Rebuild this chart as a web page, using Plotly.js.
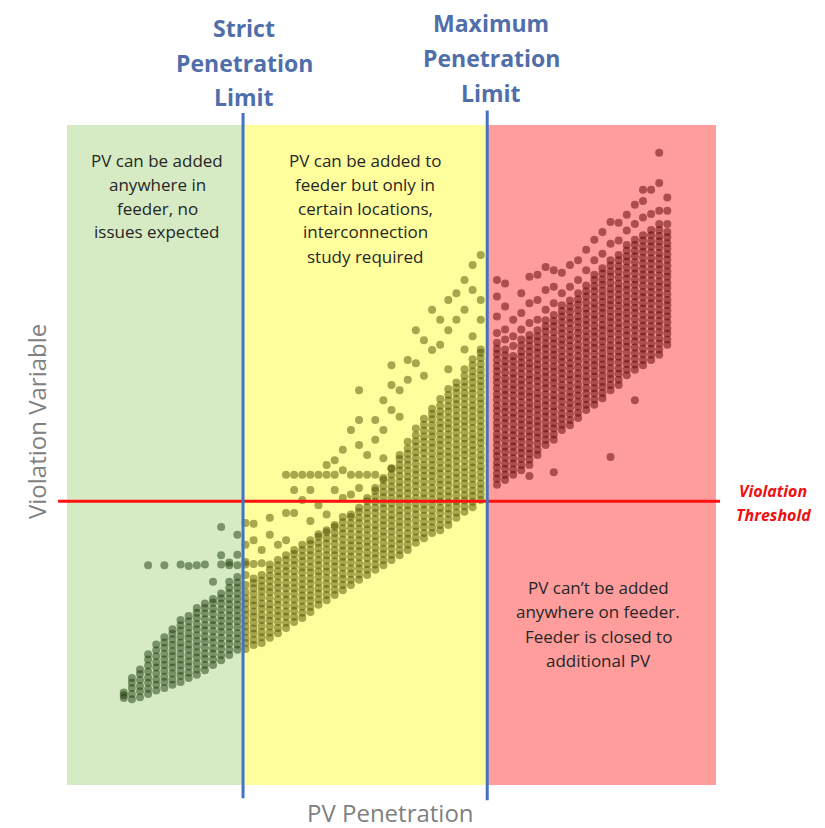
<!DOCTYPE html>
<html><head><meta charset="utf-8">
<script src="https://cdn.plot.ly/plotly-3.0.1.min.js"></script>
<style>html,body{margin:0;padding:0;background:#fff}</style>
</head><body><div id="chart" style="width:825px;height:828px"></div>
<script>
// ---- thresholds & extents (data units) ----
const strictLimit = 21.7;
const maxLimit = 51.8;
const violationThreshold = 43;
const penetrationExtent = [0, 80];
const violationExtent = [0, 100];

// ---- scatter data: columns of PV penetration with violation values ----
const strictZoneCols = [7,8,9,10,11,12,13,14,15,16,17,18,19,20,21];
const strictZoneVals = [
 [13.2,14.0,13.6],
 [13.0,13.8,14.7,15.5,16.2],
 [13.3,14.2,15.0,15.9,16.8,17.5],
 [13.8,14.6,15.5,16.3,17.2,18.1,19.0,19.8,33.3],
 [14.3,15.2,16.0,16.9,17.8,18.6,19.5,20.4,21.3],
 [14.7,15.6,16.4,17.3,18.2,19.0,19.9,20.8,21.6,22.4,33.3],
 [15.2,16.0,16.9,17.8,18.6,19.5,20.3,21.2,22.1,22.9,23.6],
 [15.6,16.5,17.3,18.2,19.0,19.9,20.8,21.6,22.5,23.4,24.2,25.0,33.4],
 [16.2,17.0,17.9,18.7,19.6,20.5,21.3,22.2,23.0,23.9,24.8,25.6,33.2],
 [16.7,17.5,18.4,19.3,20.1,21.0,21.8,22.7,23.6,24.4,25.3,26.1,26.8,33.3],
 [17.4,18.2,19.1,19.9,20.8,21.7,22.5,23.4,24.2,25.1,26.0,26.8,27.5,33.4],
 [18.2,19.0,19.9,20.7,21.6,22.4,23.3,24.2,25.0,25.9,26.7,27.6,28.2,30.8],
 [18.9,19.7,20.6,21.4,22.3,23.2,24.0,24.9,25.7,26.6,27.5,28.3,29.0,33.4,34.8,39.1],
 [19.7,20.5,21.4,22.2,23.1,24.0,24.8,25.7,26.5,27.4,28.2,29.1,29.9,30.8,33.3,33.7],
 [20.5,21.3,22.2,23.0,23.9,24.8,25.6,26.5,27.3,28.2,29.0,29.9,30.7,31.5,33.3,34.9,37.9]
];
const studyZoneCols = [22,23,24,25,26,27,28,29,30,31,32,33,34,35,36,37,38,39,40,41,42,43,44,45,46,47,48,49,50,51];
const studyZoneVals = [
 [20.6,21.5,22.3,23.2,24.0,24.9,25.8,26.6,27.5,28.3,29.2,30.3,31.8,33.4,33.8,36.4,39.7],
 [21.2,22.0,22.9,23.7,24.6,25.5,26.3,27.2,28.0,28.9,29.8,30.6,31.3,33.5,37.1,39.6],
 [21.5,22.4,23.2,24.1,25.0,25.8,26.7,27.5,28.4,29.3,30.1,31.0,31.8,33.6,35.6],
 [22.3,23.1,24.0,24.9,25.7,26.6,27.4,28.3,29.2,30.0,30.9,31.7,32.6,33.4,37.9,40.5],
 [23.0,23.8,24.7,25.6,26.4,27.3,28.1,29.0,29.9,30.7,31.6,32.4,33.3,34.1,36.4],
 [23.8,24.6,25.5,26.3,27.2,28.1,28.9,29.8,30.6,31.5,32.4,33.2,34.1,34.8,37.1,41.2,47.0],
 [24.7,25.5,26.4,27.2,28.1,29.0,29.8,30.7,31.5,32.4,33.3,34.1,35.0,35.6,41.2,44.7,47.0],
 [25.3,26.1,27.0,27.9,28.7,29.6,30.4,31.3,32.2,33.0,33.9,34.7,35.6,36.4,43.2,47.0],
 [26.2,27.0,27.9,28.7,29.6,30.5,31.3,32.2,33.0,33.9,34.8,35.6,36.5,37.1,40.0,44.7,47.0],
 [27.3,28.1,29.0,29.8,30.7,31.6,32.4,33.3,34.1,35.0,35.9,36.7,37.6,38.0,42.4,47.0],
 [28.0,28.8,29.7,30.5,31.4,32.3,33.1,34.0,34.8,35.7,36.6,37.4,38.3,38.6,41.0,47.0,48.5],
 [28.8,29.6,30.5,31.3,32.2,33.1,33.9,34.8,35.6,36.5,37.4,38.2,39.1,39.4,44.7,47.0,49.2],
 [29.5,30.3,31.2,32.0,32.9,33.8,34.6,35.5,36.3,37.2,38.1,38.9,39.8,40.6,43.5,47.7,50.8],
 [30.3,31.1,32.0,32.8,33.7,34.6,35.4,36.3,37.1,38.0,38.9,39.7,40.6,41.0,44.0,47.0,53.8],
 [31.1,31.9,32.8,33.6,34.5,35.4,36.2,37.1,37.9,38.8,39.7,40.5,41.4,42.0,45.0,47.0,51.5,55.3,59.8],
 [31.8,32.6,33.5,34.4,35.2,36.1,36.9,37.8,38.7,39.5,40.4,41.2,42.1,43.0,43.5,47.0,50.0],
 [32.6,33.4,34.3,35.1,36.0,36.9,37.7,38.6,39.4,40.3,41.2,42.0,42.9,43.7,44.6,45.0,47.0,52.3,55.3],
 [33.3,34.1,35.0,35.8,36.7,37.6,38.4,39.3,40.1,41.0,41.9,42.7,43.6,44.4,45.3,46.2,46.5,49.5,53.8,58.3],
 [34.1,34.9,35.8,36.6,37.5,38.4,39.2,40.1,40.9,41.8,42.7,43.5,44.4,45.2,46.1,47.0,47.9,48.0,56.8,60.6,63.6],
 [34.8,35.6,36.5,37.3,38.2,39.1,39.9,40.8,41.6,42.5,43.4,44.2,45.1,45.9,46.8,47.7,48.5,49.4,50.0,55.8,59.8],
 [35.6,36.4,37.3,38.1,39.0,39.9,40.7,41.6,42.4,43.3,44.2,45.0,45.9,46.7,47.6,48.5,49.3,50.2,51.0,52.0,61.4,64.4],
 [36.7,37.5,38.4,39.2,40.1,41.0,41.8,42.7,43.5,44.4,45.3,46.1,47.0,47.8,48.7,49.6,50.4,51.3,52.1,53.0,54.0,63.9,68.9],
 [37.4,38.2,39.1,39.9,40.8,41.7,42.5,43.4,44.2,45.1,46.0,46.8,47.7,48.5,49.4,50.3,51.1,52.0,52.8,53.7,54.6,55.5,62.0,67.4],
 [38.2,39.0,39.9,40.7,41.6,42.5,43.3,44.2,45.0,45.9,46.8,47.6,48.5,49.3,50.2,51.1,51.9,52.8,53.6,54.5,55.4,56.2,57.0,65.9,72.0],
 [38.6,39.4,40.3,41.2,42.0,42.9,43.7,44.6,45.5,46.3,47.2,48.0,48.9,49.8,50.6,51.5,52.3,53.2,54.1,54.9,55.8,56.6,57.5,58.5,66.7,70.5],
 [39.4,40.2,41.1,41.9,42.8,43.7,44.5,45.4,46.2,47.1,48.0,48.8,49.7,50.5,51.4,52.3,53.1,54.0,54.8,55.7,56.6,57.4,58.3,59.1,60.0,63.0,68.9,73.5],
 [40.5,41.3,42.2,43.0,43.9,44.8,45.6,46.5,47.3,48.2,49.1,49.9,50.8,51.6,52.5,53.4,54.2,55.1,55.9,56.8,57.7,58.5,59.4,60.2,61.0,70.5,74.5],
 [41.4,42.2,43.1,43.9,44.8,45.7,46.5,47.4,48.2,49.1,50.0,50.8,51.7,52.5,53.4,54.3,55.1,56.0,56.8,57.7,58.6,59.4,60.3,61.1,62.0,63.0,66.0,72.0,76.5],
 [42.1,42.9,43.8,44.6,45.5,46.4,47.2,48.1,48.9,49.8,50.7,51.5,52.4,53.2,54.1,55.0,55.8,56.7,57.5,58.4,59.3,60.1,61.0,61.8,62.7,63.6,64.5,68.0,75.0,78.8],
 [43.2,44.0,44.9,45.7,46.6,47.5,48.3,49.2,50.0,50.9,51.8,52.6,53.5,54.3,55.2,56.1,56.9,57.8,58.6,59.5,60.4,61.2,62.1,62.9,63.8,64.7,65.5,66.0,70.5,73.5,80.3]
];
const closedZoneCols = [53,54,55,56,57,58,59,60,61,62,63,64,65,66,67,68,69,70,71,72,73,74];
const closedZoneVals = [
 [45.5,46.4,47.2,48.1,48.9,49.8,50.6,51.5,52.4,53.2,54.1,54.9,55.8,56.7,57.5,58.4,59.2,60.1,61.0,61.8,62.7,63.5,64.4,65.3,66.1,67.0,68.5,71.0,74.0,76.5],
 [46.2,47.0,47.9,48.7,49.6,50.5,51.3,52.2,53.0,53.9,54.8,55.6,56.5,57.3,58.2,59.1,59.9,60.8,61.6,62.5,63.4,64.2,65.1,66.0,67.5,69.0,72.5,76.0],
 [47.0,47.8,48.7,49.5,50.4,51.3,52.1,53.0,53.8,54.7,55.6,56.4,57.3,58.1,59.0,59.9,60.7,61.6,62.4,63.3,64.2,65.0,66.5,68.0,70.5],
 [47.7,48.5,49.4,50.3,51.1,52.0,52.8,53.7,54.6,55.4,56.3,57.1,58.0,58.9,59.7,60.6,61.4,62.3,63.2,64.0,64.9,65.7,66.6,67.5,69.0,71.5,74.5],
 [46.8,48.5,49.3,50.2,51.0,51.9,52.8,53.6,54.5,55.3,56.2,57.1,57.9,58.8,59.6,60.5,61.4,62.2,63.1,63.9,64.8,65.7,66.5,67.4,68.2,70.0,73.0,77.0],
 [50.0,50.8,51.7,52.6,53.4,54.3,55.1,56.0,56.9,57.7,58.6,59.4,60.3,61.2,62.0,62.9,63.7,64.6,65.5,66.3,67.2,68.0,68.9,70.5,73.5,77.3],
 [51.5,52.3,53.2,54.0,54.9,55.8,56.6,57.5,58.3,59.2,60.1,60.9,61.8,62.6,63.5,64.4,65.2,66.1,66.9,67.8,68.7,69.5,70.4,72.0,75.0,78.5],
 [47.4,52.3,53.1,54.0,54.8,55.7,56.6,57.4,58.3,59.1,60.0,60.9,61.7,62.6,63.4,64.3,65.2,66.0,66.9,67.7,68.6,69.5,70.3,71.2,73.0,75.5,78.0],
 [53.8,54.6,55.5,56.3,57.2,58.1,58.9,59.8,60.6,61.5,62.4,63.2,64.1,64.9,65.8,66.7,67.5,68.4,69.2,70.1,71.0,71.8,72.7,74.5,77.6],
 [54.5,55.3,56.2,57.1,57.9,58.8,59.6,60.5,61.4,62.2,63.1,63.9,64.8,65.7,66.5,67.4,68.2,69.1,70.0,70.8,71.7,72.5,73.4,75.5,78.8],
 [55.6,56.4,57.3,58.1,59.0,59.9,60.7,61.6,62.4,63.3,64.2,65.0,65.9,66.7,67.6,68.5,69.3,70.2,71.0,71.9,72.8,73.6,74.5,76.5,79.5],
 [56.8,57.6,58.5,59.3,60.2,61.1,61.9,62.8,63.6,64.5,65.4,66.2,67.1,67.9,68.8,69.7,70.5,71.4,72.2,73.1,74.0,74.8,75.7,78.0,81.1],
 [57.6,58.4,59.3,60.1,61.0,61.9,62.7,63.6,64.4,65.3,66.2,67.0,67.9,68.7,69.6,70.5,71.3,72.2,73.0,73.9,74.8,75.6,76.5,77.3,79.5,82.6],
 [58.6,59.4,60.3,61.1,62.0,62.9,63.7,64.6,65.4,66.3,67.2,68.0,68.9,69.7,70.6,71.5,72.3,73.2,74.0,74.9,75.8,76.6,77.5,78.3,80.5,83.8],
 [49.7,59.8,60.6,61.5,62.3,63.2,64.1,64.9,65.8,66.6,67.5,68.4,69.2,70.1,70.9,71.8,72.7,73.5,74.4,75.2,76.1,77.0,77.8,78.7,79.5,82.0,85.3],
 [60.6,61.4,62.3,63.1,64.0,64.9,65.7,66.6,67.4,68.3,69.2,70.0,70.9,71.7,72.6,73.5,74.3,75.2,76.0,76.9,77.8,78.6,79.5,80.3,82.5,85.2],
 [62.1,62.9,63.8,64.6,65.5,66.4,67.2,68.1,68.9,69.8,70.7,71.5,72.4,73.2,74.1,75.0,75.8,76.7,77.5,78.4,79.3,80.1,81.0,81.8,84.0,86.4],
 [58.3,62.9,63.7,64.6,65.4,66.3,67.2,68.0,68.9,69.7,70.6,71.5,72.3,73.2,74.0,74.9,75.8,76.6,77.5,78.3,79.2,80.1,80.9,81.8,82.6,85.0,87.9],
 [63.6,64.4,65.3,66.1,67.0,67.9,68.7,69.6,70.4,71.3,72.2,73.0,73.9,74.7,75.6,76.5,77.3,78.2,79.0,79.9,80.8,81.6,82.5,83.3,86.0,88.5,90.2],
 [64.4,65.2,66.1,66.9,67.8,68.7,69.5,70.4,71.2,72.1,73.0,73.8,74.7,75.5,76.4,77.3,78.1,79.0,79.8,80.7,81.6,82.4,83.3,84.1,86.5,90.2],
 [65.2,66.0,66.9,67.7,68.6,69.5,70.3,71.2,72.0,72.9,73.8,74.6,75.5,76.3,77.2,78.1,78.9,79.8,80.6,81.5,82.4,83.2,84.1,85.0,87.0,91.2,95.8],
 [66.7,67.5,68.4,69.2,70.1,71.0,71.8,72.7,73.5,74.4,75.3,76.1,77.0,77.8,78.7,79.6,80.4,81.3,82.1,83.0,83.8,85.0,87.0,89.0]
];

// ---- texts ----
const strictTitle = ['Strict', 'Penetration', 'Limit'];
const maxTitle = ['Maximum', 'Penetration', 'Limit'];
const thresholdLabel = ['Violation', 'Threshold'];
const strictZoneText = ['PV can be added', 'anywhere in', 'feeder, no', 'issues expected'];
const studyZoneText = ['PV can be added to', 'feeder but only in', 'certain locations,', 'interconnection', 'study required'];
const closedZoneText = ['PV can\u2019t be added', 'anywhere on feeder.', 'Feeder is closed to', 'additional PV'];
const xTitle = 'PV Penetration';
const yTitle = 'Violation Variable';

// ---- layout geometry ----
const W = 825, H = 828;
const M = {l: 30, r: 100, t: 105, b: 23};
const plotW = W - M.l - M.r, plotH = H - M.t - M.b;
const px = v => (v - M.l) / plotW;
const py = v => (H - M.b - v) / plotH;

function zoneTrace(cols, vals, color) {
  const x = [], y = [];
  cols.forEach((c, i) => vals[i].forEach(v => { x.push(c); y.push(v); }));
  return {type: 'scatter', mode: 'markers', x, y, hoverinfo: 'skip',
    marker: {size: 8, color, opacity: 0.5, line: {width: 0}}};
}

function lines(arr, cx, ys, font) {
  return arr.map((t, i) => ({xref: 'paper', yref: 'paper', x: px(cx), y: py(ys[i]),
    text: t, showarrow: false, xanchor: 'center', yanchor: 'middle', font}));
}

const titleFont = {family: 'Open Sans', size: 23, color: '#4f6eaa', weight: 'bold'};
const zoneFont = {family: 'Open Sans', size: 17, color: '#262626'};
const threshFont = {family: 'Open Sans', size: 16, color: '#ee1111', weight: 'bold', style: 'italic'};
const axisFont = {family: 'Open Sans', size: 24, color: '#808080'};

const annotations = [].concat(
  lines(strictTitle, 244, [28, 63, 97], titleFont),
  lines(maxTitle, 491, [23, 58, 93], titleFont),
  lines(thresholdLabel, 773, [491, 515], threshFont),
  lines(strictZoneText, 157, [160, 184, 208, 232], zoneFont),
  lines(studyZoneText, 365, [160, 184, 208, 232, 256], zoneFont),
  lines(closedZoneText, 598, [587, 611, 636, 660], zoneFont),
  [{xref: 'paper', yref: 'paper', x: px(390), y: py(813), text: xTitle, showarrow: false,
    xanchor: 'center', yanchor: 'middle', font: axisFont},
   {xref: 'paper', yref: 'paper', x: px(36), y: py(422), text: yTitle, showarrow: false,
    textangle: -90, xanchor: 'center', yanchor: 'middle', font: axisFont}]
);

const shapes = [
  {type: 'rect', xref: 'x', yref: 'y', x0: penetrationExtent[0], x1: strictLimit, y0: violationExtent[0], y1: violationExtent[1],
   fillcolor: '#d6ebc4', line: {width: 0}, layer: 'below'},
  {type: 'rect', xref: 'x', yref: 'y', x0: strictLimit, x1: maxLimit, y0: violationExtent[0], y1: violationExtent[1],
   fillcolor: '#fefe9c', line: {width: 0}, layer: 'below'},
  {type: 'rect', xref: 'x', yref: 'y', x0: maxLimit, x1: penetrationExtent[1], y0: violationExtent[0], y1: violationExtent[1],
   fillcolor: '#ff9d9d', line: {width: 0}, layer: 'below'},
  {type: 'line', xref: 'x', yref: 'y', x0: -1.1, x1: 80.5, y0: violationThreshold, y1: violationThreshold,
   line: {color: '#ff1111', width: 3}, layer: 'above'},
  {type: 'line', xref: 'x', yref: 'y', x0: strictLimit, x1: strictLimit, y0: -2.0, y1: 101.8,
   line: {color: '#4472c4', width: 3}, layer: 'above'},
  {type: 'line', xref: 'x', yref: 'y', x0: maxLimit, x1: maxLimit, y0: -2.3, y1: 102.2,
   line: {color: '#4472c4', width: 3}, layer: 'above'}
];

const layout = {
  width: W, height: H, margin: M, showlegend: false,
  paper_bgcolor: '#ffffff', plot_bgcolor: 'rgba(0,0,0,0)',
  xaxis: {range: [-4.561, 81.11], visible: false, fixedrange: true},
  yaxis: {range: [-3.03, 103.03], visible: false, fixedrange: true},
  shapes, annotations
};

Plotly.newPlot('chart', [
  zoneTrace(strictZoneCols, strictZoneVals, 'rgb(30,58,10)'),
  zoneTrace(studyZoneCols, studyZoneVals, 'rgb(80,80,0)'),
  zoneTrace(closedZoneCols, closedZoneVals, 'rgb(90,0,0)')
], layout, {staticPlot: true, displayModeBar: false});
</script></body></html>
